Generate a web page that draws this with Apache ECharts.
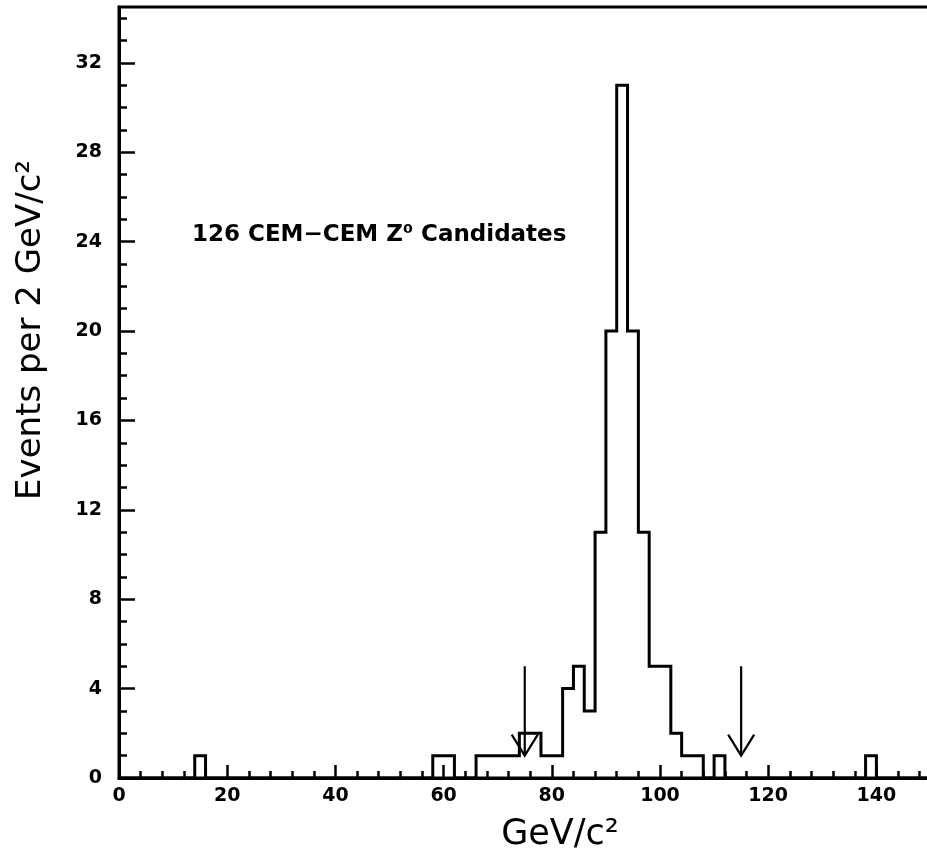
<!DOCTYPE html>
<html>
<head>
<meta charset="utf-8">
<script src="https://cdn.jsdelivr.net/npm/echarts@6/dist/echarts.min.js"></script>
<style>
  html, body { margin: 0; padding: 0; background: #fff; }
  #chart { width: 927px; height: 861px; }
</style>
</head>
<body>
<div id="chart"></div>
<script>
// Dielectron invariant mass, 2 GeV/c² bins (only non-empty bins listed)
const binWidth = 2;
const histRange = [0, 150];
const binStarts = [14, 58, 60, 66, 68, 70, 72, 74, 76, 78, 80, 82, 84, 86, 88, 90, 92, 94, 96, 98, 100, 102, 104, 106, 110, 138];
const binCounts = [1, 1, 1, 1, 1, 1, 1, 2, 2, 1, 1, 4, 5, 3, 11, 20, 31, 20, 11, 5, 5, 2, 1, 1, 1, 1];

// Mass-window cut markers: arrow from count 5 down to count 1
const cutMasses = [75, 115];
const arrowTopCount = 5;
const arrowTipCount = 1;

// Axis ticks
const xMajorTicks = [0, 20, 40, 60, 80, 100, 120, 140];
const xMinorTicks = [0, 4, 8, 12, 16, 20, 24, 28, 32, 36, 40, 44, 48, 52, 56, 60, 64, 68, 72, 76, 80, 84, 88, 92, 96, 100, 104, 108, 112, 116, 120, 124, 128, 132, 136, 140, 144, 148];
const yMajorTicks = [0, 4, 8, 12, 16, 20, 24, 28, 32];
const yMinorTicks = [0, 1, 2, 3, 4, 5, 6, 7, 8, 9, 10, 11, 12, 13, 14, 15, 16, 17, 18, 19, 20, 21, 22, 23, 24, 25, 26, 27, 28, 29, 30, 31, 32, 33, 34];

const annotation = '126 CEM\u2212CEM Z\u2070 Candidates';
const xTitle = 'GeV/c\u00B2';
const yTitle = 'Events per 2 GeV/c\u00B2';

// Step outline: one point per bin edge, empty bins at zero
const stepData = [];
for (let x = histRange[0]; x < histRange[1]; x += binWidth) {
  const i = binStarts.indexOf(x);
  stepData.push([x, i >= 0 ? binCounts[i] : 0]);
}
stepData.push([histRange[1], 0]);

const arrowData = cutMasses.map(m => [m, arrowTopCount, arrowTipCount]);

const FONT = 'DejaVu Sans';
const black = '#000';

// Only the listed major values get a label
const labelIf = list => v => (list.indexOf(v) >= 0 ? String(v) : '');

const chart = echarts.init(document.getElementById('chart'), null, { renderer: 'canvas' });

chart.setOption({
  backgroundColor: '#fff',
  animation: false,
  grid: {
    left: 119, top: 7, width: 811.5, height: 771,
    show: true, borderColor: black, borderWidth: 3,
    containLabel: false, outerBoundsMode: 'none'
  },
  xAxis: [
    {
      type: 'value', position: 'bottom', min: histRange[0], max: histRange[1], interval: 20,
      axisLine: { show: true, onZero: false, lineStyle: { color: black, width: 3 } },
      axisTick: { show: true, inside: true, length: 13, customValues: xMajorTicks, lineStyle: { color: black, width: 2.5 } },
      axisLabel: {
        customValues: xMajorTicks, formatter: labelIf(xMajorTicks), margin: 9,
        color: black, fontFamily: FONT, fontWeight: 'bold', fontSize: 19
      },
      splitLine: { show: false }
    },
    {
      type: 'value', position: 'bottom', min: histRange[0], max: histRange[1], interval: 4,
      axisLine: { show: false, onZero: false },
      axisTick: { show: true, inside: true, length: 7, customValues: xMinorTicks, lineStyle: { color: black, width: 2.5 } },
      axisLabel: { show: false },
      splitLine: { show: false }
    }
  ],
  yAxis: [
    {
      type: 'value', position: 'left', min: 0, max: 34.5, interval: 4,
      axisLine: { show: true, onZero: false, lineStyle: { color: black, width: 3 } },
      axisTick: { show: true, inside: true, length: 16, customValues: yMajorTicks, lineStyle: { color: black, width: 2.5 } },
      axisLabel: {
        customValues: yMajorTicks, formatter: labelIf(yMajorTicks), margin: 17,
        color: black, fontFamily: FONT, fontWeight: 'bold', fontSize: 19
      },
      splitLine: { show: false }
    },
    {
      type: 'value', position: 'left', min: 0, max: 34.5, interval: 1,
      axisLine: { show: false, onZero: false },
      axisTick: { show: true, inside: true, length: 8, customValues: yMinorTicks, lineStyle: { color: black, width: 2.5 } },
      axisLabel: { show: false },
      splitLine: { show: false }
    }
  ],
  series: [
    {
      name: 'events',
      type: 'line',
      xAxisIndex: 0, yAxisIndex: 0,
      step: 'end',
      data: stepData,
      showSymbol: false,
      clip: false,
      lineStyle: { color: black, width: 3, join: 'miter' },
      z: 3
    },
    {
      name: 'cuts',
      type: 'custom',
      xAxisIndex: 0, yAxisIndex: 0,
      data: arrowData,
      clip: false,
      renderItem: function (params, api) {
        const top = api.coord([api.value(0), api.value(1)]);
        const tip = api.coord([api.value(0), api.value(2)]);
        const hw = 13, hh = 21;
        return {
          type: 'group',
          children: [
            { type: 'line', shape: { x1: top[0], y1: top[1], x2: tip[0], y2: tip[1] },
              style: { stroke: black, lineWidth: 2.2 } },
            { type: 'polyline', shape: { points: [[tip[0] - hw, tip[1] - hh], [tip[0], tip[1]], [tip[0] + hw, tip[1] - hh]] },
              style: { stroke: black, fill: null, lineWidth: 2.2 } }
          ]
        };
      },
      z: 4
    }
  ],
  graphic: [
    {
      type: 'text', left: 192, top: 224,
      style: { text: annotation, fill: black, font: 'bold 23px "DejaVu Sans"' }
    },
    {
      type: 'text', x: 560, y: 835,
      style: { text: xTitle, fill: black, font: '35px "DejaVu Sans"', textAlign: 'center', textVerticalAlign: 'middle' }
    },
    {
      type: 'text', x: 31, y: 330, rotation: Math.PI / 2,
      style: { text: yTitle, fill: black, font: '34px "DejaVu Sans"', textAlign: 'center', textVerticalAlign: 'middle' }
    }
  ]
});
</script>
</body>
</html>
